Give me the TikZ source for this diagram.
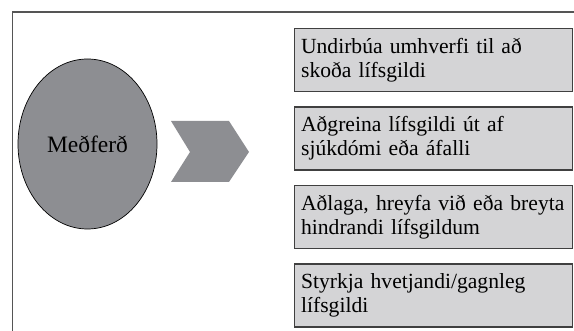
\documentclass[tikz,border=0pt]{standalone}
\usepackage{fontspec}
\setmainfont{Liberation Serif}
\usetikzlibrary{positioning, shapes.geometric}
\definecolor{dokkgrar}{RGB}{141,142,146}
\definecolor{ljosgrar}{RGB}{212,212,214}
\definecolor{rammalina}{RGB}{85,85,85}
\begin{document}
\begin{tikzpicture}[
    x=1pt, y=-1pt,
    box/.style={rectangle, draw=black!75, line width=1.2pt, fill=ljosgrar,
                minimum height=63pt, text width=265pt, inner xsep=6.5pt,
                align=left, font=\fontsize{21.6}{24}\selectfont},
    hringur/.style={ellipse, draw=black, line width=0.7pt, fill=dokkgrar,
                    minimum width=139pt, minimum height=170pt, inner sep=0pt,
                    font=\fontsize{23.5}{26}\selectfont},
    node distance=14.3pt
  ]
    \useasboundingbox (0,0) rectangle (574,331);

    % Rammi
    \draw[rammalina, line width=1.3pt] (12.5,331) -- (12.5,12) -- (574,12);

    % Sporbaugur
    \node[hringur] (medferd) at (87.5,144) {Meðferð};

    % Ör
    \fill[dokkgrar] (171,121) -- (229,121) -- (249,152) -- (229,182)
                    -- (171,182) -- (190,152) -- cycle;

    % Kassar
    \node[box, anchor=north west] (undirbua) at (294,28)
         {Undirbúa umhverfi til að\\skoða lífsgildi};
    \node[box, below=of undirbua] (adgreina)
         {Aðgreina lífsgildi út af\\sjúkdómi eða áfalli};
    \node[box, below=of adgreina] (adlaga)
         {Aðlaga, hreyfa við eða breyta\\hindrandi lífsgildum};
    \node[box, below=of adlaga] (styrkja)
         {Styrkja hvetjandi/gagnleg\\lífsgildi};
\end{tikzpicture}
\end{document}
